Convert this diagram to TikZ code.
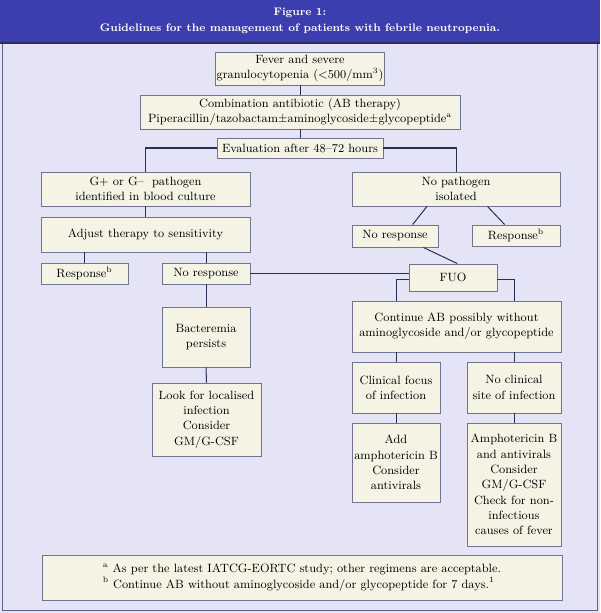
\documentclass[tikz,border=0pt]{standalone}
\usetikzlibrary{calc}
\usetikzlibrary{backgrounds}

\definecolor{paper}{RGB}{228,228,246}
\definecolor{banner}{RGB}{60,62,176}
\definecolor{boxfill}{RGB}{244,243,228}
\definecolor{boxline}{RGB}{112,116,142}
\definecolor{wire}{RGB}{42,46,84}
\definecolor{frame}{RGB}{92,96,132}

\begin{document}
\begin{tikzpicture}[x=0.75pt, y=-0.75pt, line width=0.7pt]
\tikzset{box/.style={draw=boxline,fill=boxfill,align=center,inner sep=1pt,font=\fontsize{9}{11.5}\selectfont}}
\tikzset{wh/.style 2 args={minimum width=#1*0.75pt,minimum height=#2*0.75pt}}
\tikzset{link/.style={draw=wire,line width=0.75pt}}

% page, frame and heading
\useasboundingbox (0,0) rectangle (600,613);
\fill[paper] (0,0) rectangle (600,613);
\draw[frame,line width=1pt] (2.5,43) rectangle (597.5,610.5);
\fill[banner] (0,0) rectangle (600,43);
\draw[wire,line width=1pt] (0,43) -- (600,43);
\node[text=white,align=center,font=\bfseries\fontsize{8.2}{12.2}\selectfont] (title) at (300,21) {Figure 1:\\Guidelines for the management of patients with febrile neutropenia.};

% top of the chart
\node[box,wh={166}{33}] (fever) at (300,68.5) {Fever and severe\\granulocytopenia ($<$500/mm\textsuperscript{3})};
\node[box,wh={320}{34}] (ab) at (300,112) {Combination antibiotic (AB therapy)\\Piperacillin/tazobactam\textpm aminoglycoside\textpm glycopeptide\textsuperscript{a}};
\node[box,wh={166}{20}] (eval) at (300,148) {Evaluation after 48--72 hours};

% left branch
\node[box,wh={209}{34}] (gpos) at (145.5,189) {G+ or G-- \ pathogen\\identified in blood culture};
\node[box,wh={209}{35}] (adj) at (145.5,234.5) {Adjust therapy to sensitivity};
\node[box,wh={87}{21}] (resp1) at (84.5,273.5) {Response\textsuperscript{b}};
\node[box,wh={88}{21}] (nores1) at (206,273.5) {No response};
\node[box,wh={88}{60}] (bact) at (206,337) {Bacteremia\\persists};
\node[box,wh={109}{73}] (look) at (206.5,419.5) {Look for localised\\infection\\Consider\\GM/G-CSF};

% right branch
\node[box,wh={208}{34}] (nopat) at (456,189) {No pathogen\\isolated};
\node[box,wh={86}{22}] (nores2) at (395,236) {No response};
\node[box,wh={88}{21}] (resp2) at (516,235.5) {Response\textsuperscript{b}};
\node[box,wh={88}{27}] (fuo) at (453,277.5) {FUO};
\node[box,wh={209}{51}] (cont) at (456.5,326.5) {Continue AB possibly without\\aminoglycoside and/or glycopeptide};
\node[box,wh={88}{51}] (focus) at (396,387.5) {Clinical focus\\of infection};
\node[box,wh={94}{51}] (nosite) at (514,387.5) {No clinical\\site of infection};
\node[box,wh={88}{79}] (add) at (396,462.5) {Add\\amphotericin B\\Consider\\antivirals};
\node[box,wh={94}{123}] (ampho) at (514,484.5) {Amphotericin B\\and antivirals\\Consider\\GM/G-CSF\\Check for non-\\infectious\\causes of fever};

% footnotes
\node[box,align=left,wh={520}{45}] (notes) at (302,577.5) {\textsuperscript{a} As per the latest IATCG-EORTC study; other regimens are acceptable.\\\textsuperscript{b} Continue AB without aminoglycoside and/or glycopeptide for 7 days.\textsuperscript{1}};

% connectors
\draw[link] (fever.south) -- (ab.north);
\draw[link] (ab.south) -- (eval.north);
\draw[link] (eval.west) -| (gpos.north);
\draw[link] (eval.east) -| (nopat.north);
\draw[link] (gpos.south) -- (adj.north);
\draw[link] (resp1.north |- adj.south) -- (resp1.north);
\draw[link] (nores1.north |- adj.south) -- (nores1.north);
\draw[link] (nores1.south) -- (bact.north);
\draw[link] (bact.south) -- (look.north);
\draw[link] (nores1.east) -- (nores1.east -| fuo.west);
\draw[link] (nopat.211) -- (nores2.33);
\draw[link] (nopat.331) -- (resp2.136);
\draw[link] (nores2.338) -- (fuo.73);
\draw[link] (fuo.183) -| (cont.north -| focus.north);
\draw[link] (fuo.357) -| (cont.north -| nosite.north);
\draw[link] (focus.north |- cont.south) -- (focus.north);
\draw[link] (nosite.north |- cont.south) -- (nosite.north);
\draw[link] (focus.south) -- (add.north);
\draw[link] (nosite.south) -- (ampho.north);

\end{tikzpicture}
\end{document}
